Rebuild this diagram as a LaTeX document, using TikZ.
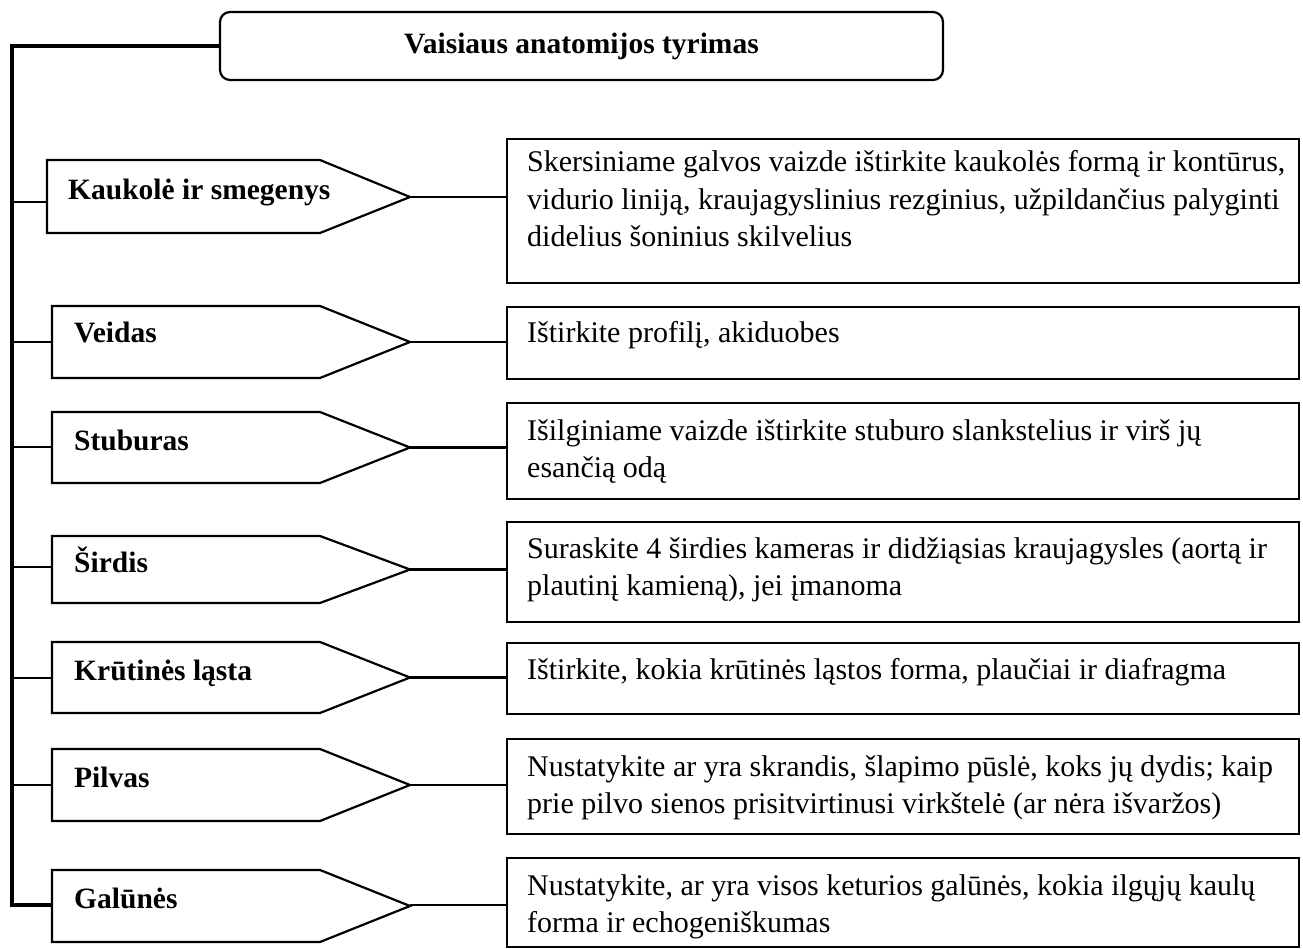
\documentclass[tikz,border=0pt]{standalone}
\usepackage{fontspec}
\setmainfont{Liberation Serif}
\begin{document}
\begin{tikzpicture}[x=1pt,y=-1pt,
  frame/.style={draw, line width=2.2pt},
  titlebox/.style={frame, rounded corners=10pt, minimum width=723pt, minimum height=68pt, inner sep=0pt,
    font=\bfseries\fontsize{29.5pt}{37pt}\selectfont},
  descbox/.style={frame, minimum width=792pt, anchor=north west, inner sep=0pt},
  lab/.style={anchor=base west, inner sep=0pt, font=\bfseries\fontsize{29.5pt}{37pt}\selectfont},
  desc/.style={anchor=base west, inner sep=0pt, font=\fontsize{30pt}{37.5pt}\selectfont},
  link/.style={line width=2.8pt},
  trunk/.style={line width=3.2pt}]
\useasboundingbox (0,0) rectangle (1303,949);

% title
\node[titlebox] (title) at (581.5,46) {Vaisiaus anatomijos tyrimas};

% right boxes
\node[descbox, minimum height=144pt] (b1) at (506,138) {};
\node[descbox, minimum height=72pt]  (b2) at (506,306) {};
\node[descbox, minimum height=96pt]  (b3) at (506,402) {};
\node[descbox, minimum height=100pt] (b4) at (506,521) {};
\node[descbox, minimum height=71pt]  (b5) at (506,642) {};
\node[descbox, minimum height=95pt]  (b6) at (506,738) {};
\node[descbox, minimum height=89pt]  (b7) at (506,857) {};

% pentagons
\draw[frame] (47,160) -- (320,160) -- (410,197) -- (320,233) -- (47,233) -- cycle;
\draw[frame] (52,306) -- (320,306) -- (410,342) -- (320,378) -- (52,378) -- cycle;
\draw[frame] (52,412) -- (320,412) -- (410,447.5) -- (320,483) -- (52,483) -- cycle;
\draw[frame] (52,536) -- (320,536) -- (410,569.5) -- (320,603) -- (52,603) -- cycle;
\draw[frame] (52,642) -- (320,642) -- (410,677.5) -- (320,713) -- (52,713) -- cycle;
\draw[frame] (52,749) -- (320,749) -- (410,785) -- (320,821) -- (52,821) -- cycle;
\draw[frame] (52,870) -- (320,870) -- (410,906) -- (320,942) -- (52,942) -- cycle;

% anchor points of pentagons
\coordinate (pL1) at (47,202);  \coordinate (pT1) at (410,197);
\coordinate (pL2) at (52,342);  \coordinate (pT2) at (410,342);
\coordinate (pL3) at (52,447);  \coordinate (pT3) at (410,447.5);
\coordinate (pL4) at (52,567);  \coordinate (pT4) at (410,569.5);
\coordinate (pL5) at (52,678);  \coordinate (pT5) at (410,677.5);
\coordinate (pL6) at (52,785);  \coordinate (pT6) at (410,785);
\coordinate (pL7) at (52,905);  \coordinate (pT7) at (410,905);

% pentagon labels
\node[lab] (l1) at (68,200) {Kaukolė ir smegenys};
\node[lab] (l2) at (74,343) {Veidas};
\node[lab] (l3) at (74,450) {Stuburas};
\node[lab] (l4) at (74,572) {Širdis};
\node[lab] (l5) at (74,680) {Krūtinės ląsta};
\node[lab] (l6) at (74,787) {Pilvas};
\node[lab] (l7) at (74,908) {Galūnės};

% descriptions
\node[desc] (d1) at (527,172) {\parbox[t]{780pt}{\raggedright Skersiniame galvos vaizde ištirkite kaukolės formą ir kontūrus,\\vidurio liniją, kraujagyslinius rezginius, užpildančius palyginti\\didelius šoninius skilvelius}};
\node[desc] (d2) at (527,342) {\parbox[t]{780pt}{\raggedright Ištirkite profilį, akiduobes}};
\node[desc] (d3) at (527,440) {\parbox[t]{780pt}{\raggedright Išilginiame vaizde ištirkite stuburo slankstelius ir virš jų\\esančią odą}};
\node[desc] (d4) at (527,558) {\parbox[t]{780pt}{\raggedright Suraskite 4 širdies kameras ir didžiąsias kraujagysles (aortą ir\\plautinį kamieną), jei įmanoma}};
\node[desc] (d5) at (527,679) {\parbox[t]{780pt}{\raggedright Ištirkite, kokia krūtinės ląstos forma, plaučiai ir diafragma}};
\node[desc] (d6) at (527,776) {\parbox[t]{780pt}{\raggedright Nustatykite ar yra skrandis, šlapimo pūslė, koks jų dydis; kaip\\prie pilvo sienos prisitvirtinusi virkštelė (ar nėra išvaržos)}};
\node[desc] (d7) at (527,895) {\parbox[t]{780pt}{\raggedright Nustatykite, ar yra visos keturios galūnės, kokia ilgųjų kaulų\\forma ir echogeniškumas}};

% trunk
\coordinate (ttop) at (12,46);
\coordinate (tbot) at (12,905);
\draw[trunk] (title.west) -- (ttop) -- (tbot) -- (pL7);
\draw[link] (ttop |- pL1) -- (pL1);
\draw[link] (ttop |- pL2) -- (pL2);
\draw[link] (ttop |- pL3) -- (pL3);
\draw[link] (ttop |- pL4) -- (pL4);
\draw[link] (ttop |- pL5) -- (pL5);
\draw[link] (ttop |- pL6) -- (pL6);

% right connectors
\draw[link] (pT1) -- (pT1 -| b1.west);
\draw[link] (pT2) -- (pT2 -| b2.west);
\draw[link] (pT3) -- (pT3 -| b3.west);
\draw[link] (pT4) -- (pT4 -| b4.west);
\draw[link] (pT5) -- (pT5 -| b5.west);
\draw[link] (pT6) -- (pT6 -| b6.west);
\draw[link] (pT7) -- (pT7 -| b7.west);
\end{tikzpicture}
\end{document}
